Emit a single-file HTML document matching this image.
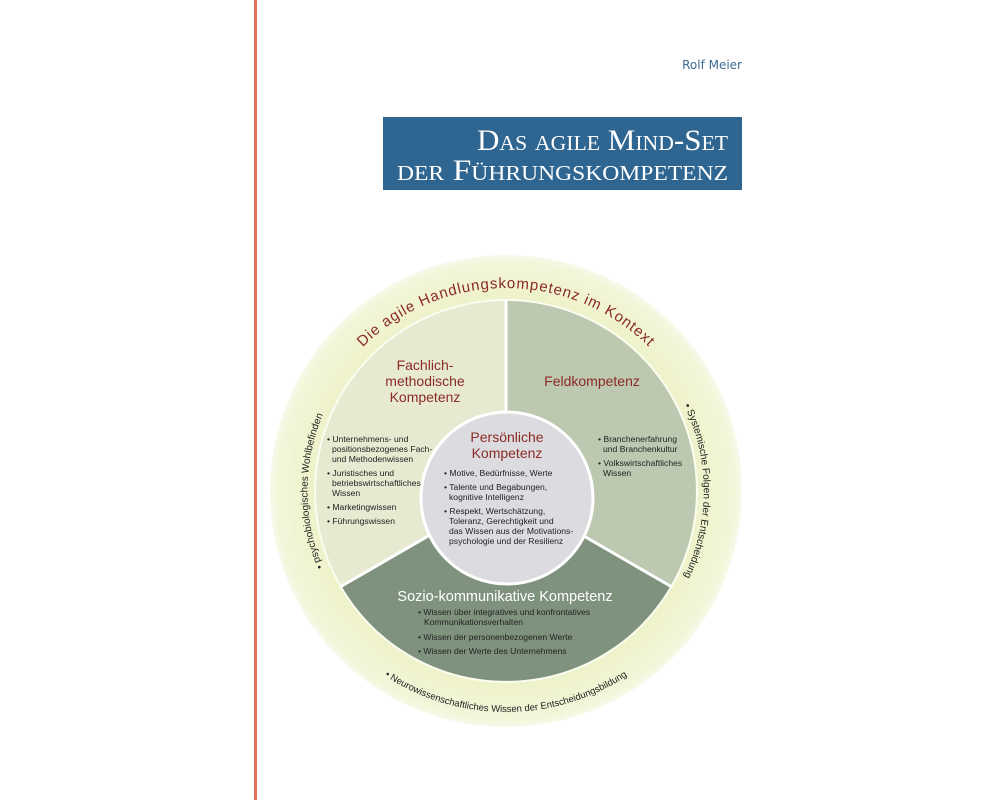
<!DOCTYPE html>
<html><head><meta charset="utf-8"><style>
html,body{margin:0;padding:0;background:#fff;}
svg{display:block;}
</style></head><body>
<svg width="1000" height="800" viewBox="0 0 1000 800" xmlns="http://www.w3.org/2000/svg" font-family="'Liberation Sans', sans-serif">
<defs>
<radialGradient id="og" cx="506" cy="491" r="236" gradientUnits="userSpaceOnUse">
<stop offset="0.8" stop-color="#eef2c8"/>
<stop offset="0.97" stop-color="#f3f6da"/>
<stop offset="1" stop-color="#f8f9ea"/>
</radialGradient>
<path id="ptop" d="M 303 491 A 203 203 0 0 1 709 491"/>
<path id="pleft" d="M 339.8 599 A 197 197 0 0 1 339.8 383"/>
<path id="pright" d="M 607 322 A 196 196 0 0 1 607 660"/>
<path id="pbot" d="M 314.6 601.5 A 221 221 0 0 0 697.4 601.5"/>
</defs>
<rect x="254" y="0" width="3" height="800" fill="#e2705a"/>
<text x="742" y="69" text-anchor="end" font-family="'DejaVu Sans', sans-serif" font-size="12" fill="#3d6a92">Rolf Meier</text>
<rect x="383" y="117" width="359" height="73" fill="#2e6591"/>
<text x="728" y="150" text-anchor="end" font-family="'Liberation Serif', serif" font-size="30" font-variant="small-caps" fill="#fff" textLength="251" lengthAdjust="spacingAndGlyphs">Das agile Mind-Set</text>
<text x="728" y="180" text-anchor="end" font-family="'Liberation Serif', serif" font-size="30" font-variant="small-caps" fill="#fff" textLength="331" lengthAdjust="spacingAndGlyphs">der Führungskompetenz</text>

<circle cx="506" cy="491" r="236" fill="url(#og)"/>
<circle cx="506" cy="491" r="192" fill="#fbfcf0"/>
<path d="M506 491 L341.5 586 A190 190 0 0 1 506 301 Z" fill="#e7ead1"/>
<path d="M506 491 L506 301 A190 190 0 0 1 670.5 586 Z" fill="#bcc8b0"/>
<path d="M506 491 L670.5 586 A190 190 0 0 1 341.5 586 Z" fill="#7e927d"/>
<line x1="506" y1="491" x2="506" y2="300" stroke="#fff" stroke-width="3"/>
<line x1="506" y1="491" x2="340" y2="587" stroke="#fff" stroke-width="3"/>
<line x1="506" y1="491" x2="672" y2="587" stroke="#fff" stroke-width="3"/>
<circle cx="507" cy="498" r="86" fill="#dcdce0" stroke="#fff" stroke-width="3"/>

<text font-size="15" fill="#8b2a26" letter-spacing="0.9"><textPath href="#ptop" startOffset="50%" text-anchor="middle">Die agile Handlungskompetenz im Kontext</textPath></text>
<text font-size="10" fill="#222"><textPath href="#pleft" startOffset="50%" text-anchor="middle">• psychobiologisches Wohlbefinden</textPath></text>
<text font-size="10" fill="#222"><textPath href="#pright" startOffset="50%" text-anchor="middle">• Systemische Folgen der Entscheidung</textPath></text>
<text font-size="9.5" fill="#222"><textPath href="#pbot" startOffset="50%" text-anchor="middle">• Neurowissenschaftliches Wissen der Entscheidungsbildung</textPath></text>

<g font-size="14" fill="#8b2a26" text-anchor="middle">
<text x="425" y="370">Fachlich-</text>
<text x="425" y="386">methodische</text>
<text x="425" y="402">Kompetenz</text>
<text x="592" y="386">Feldkompetenz</text>
<text x="507" y="442">Persönliche</text>
<text x="507" y="458">Kompetenz</text>
</g>
<text x="505" y="601" font-size="14.5" fill="#fff" text-anchor="middle">Sozio-kommunikative Kompetenz</text>

<g font-size="8.6" fill="#222">
<text x="327" y="442">• Unternehmens- und</text>
<text x="332" y="452">positionsbezogenes Fach-</text>
<text x="332" y="462">und Methodenwissen</text>
<text x="327" y="476">• Juristisches und</text>
<text x="332" y="486">betriebswirtschaftliches</text>
<text x="332" y="496">Wissen</text>
<text x="327" y="510">• Marketingwissen</text>
<text x="327" y="524">• Führungswissen</text>

<text x="444" y="476">• Motive, Bedürfnisse, Werte</text>
<text x="444" y="490">• Talente und Begabungen,</text>
<text x="449" y="500">kognitive Intelligenz</text>
<text x="444" y="514">• Respekt, Wertschätzung,</text>
<text x="449" y="524">Toleranz, Gerechtigkeit und</text>
<text x="449" y="534">das Wissen aus der Motivations-</text>
<text x="449" y="544">psychologie und der Resilienz</text>

<text x="598" y="442">• Branchenerfahrung</text>
<text x="603" y="452">und Branchenkultur</text>
<text x="598" y="466">• Volkswirtschaftliches</text>
<text x="603" y="476">Wissen</text>

<text x="418" y="615">• Wissen über integratives und konfrontatives</text>
<text x="424" y="625">Kommunikationsverhalten</text>
<text x="418" y="640">• Wissen der personenbezogenen Werte</text>
<text x="418" y="654">• Wissen der Werte des Unternehmens</text>
</g>
</svg>
</body></html>
